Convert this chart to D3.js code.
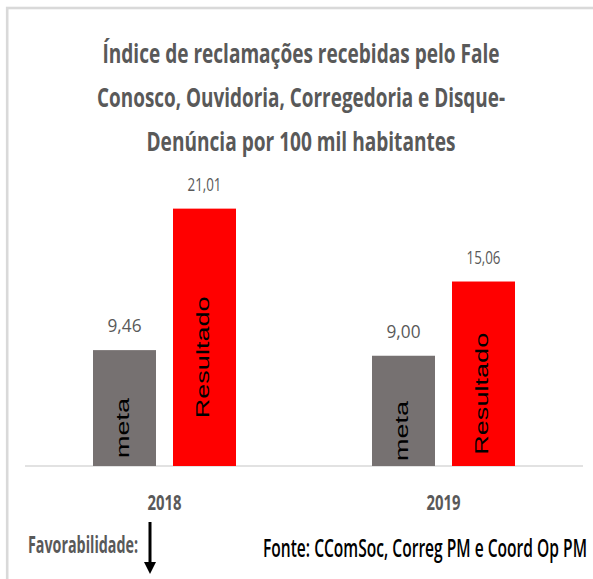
<!DOCTYPE html>
<html>
<head>
<meta charset="utf-8">
<script src="https://cdn.jsdelivr.net/npm/d3@7"></script>
<style>
  body { margin: 0; background: #fff; }
  text { font-family: "Open Sans", sans-serif; }
</style>
</head>
<body>
<div id="chart"></div>
<script>
// data
var years = ["2018", "2019"];
var series = ["meta", "Resultado"];
var metaValues = [9.46, 9.00];
var resultValues = [21.01, 15.06];
var titleLines = [
    "Índice de reclamações recebidas pelo Fale",
    "Conosco, Ouvidoria, Corregedoria e Disque-",
    "Denúncia por 100 mil habitantes"
];

var W = 593, H = 579;
var colors = {meta: "#767171", Resultado: "#ff0000"};

var data = years.map(function (y, i) {
    return {year: y, values: [
        {key: "meta", value: metaValues[i]},
        {key: "Resultado", value: resultValues[i]}
    ]};
});

var svg = d3.select("#chart").append("svg")
    .attr("width", W)
    .attr("height", H);

svg.append("rect").attr("width", W).attr("height", H).attr("fill", "#fff");

// chart frame (only top + left edges visible)
svg.append("rect")
    .attr("x", 7.2).attr("y", 8)
    .attr("width", W + 10).attr("height", H + 10)
    .attr("fill", "none")
    .attr("stroke", "#d9d9d9")
    .attr("stroke-width", 2.6);

// title
var titleLen = [397, 408, 309];
svg.selectAll(".title")
    .data(titleLines)
    .enter().append("text")
    .attr("class", "title")
    .attr("x", 301)
    .attr("y", function (d, i) { return 63 + i * 44; })
    .attr("text-anchor", "middle")
    .attr("textLength", function (d, i) { return titleLen[i]; })
    .attr("lengthAdjust", "spacingAndGlyphs")
    .style("font-size", "27px")
    .style("font-weight", 700)
    .attr("fill", "#595959")
    .text(function (d) { return d; });

// scales
var y = d3.scaleLinear().domain([0, 25]).range([466, 159.75]);
var x0 = d3.scaleBand().domain(years).range([25, 583]);
var x1 = d3.scaleBand().domain(series).range([0, x0.bandwidth()])
    .paddingInner(0.2125).paddingOuter(0.85);

// baseline axis
svg.append("line")
    .attr("x1", 25).attr("x2", 583)
    .attr("y1", y(0)).attr("y2", y(0))
    .attr("stroke", "#d9d9d9")
    .attr("stroke-width", 1.5);

var groups = svg.selectAll(".group")
    .data(data)
    .enter().append("g")
    .attr("class", "group")
    .attr("transform", function (d) { return "translate(" + x0(d.year) + ",0)"; });

var bars = groups.selectAll(".bar")
    .data(function (d) { return d.values; })
    .enter().append("g")
    .attr("class", "bar");

bars.append("rect")
    .attr("x", function (d) { return x1(d.key); })
    .attr("y", function (d) { return y(d.value); })
    .attr("width", x1.bandwidth())
    .attr("height", function (d) { return y(0) - y(d.value); })
    .attr("fill", function (d) { return colors[d.key]; });

// value labels
var fmt = function (v) { return d3.format(".2f")(v).replace(".", ","); };
bars.append("text")
    .attr("x", function (d) { return x1(d.key) + x1.bandwidth() / 2; })
    .attr("y", function (d) { return y(d.value) - 18; })
    .attr("text-anchor", "middle")
    .attr("textLength", 34)
    .attr("lengthAdjust", "spacingAndGlyphs")
    .style("font-size", "19px")
    .attr("fill", "#595959")
    .text(function (d) { return fmt(d.value); });

// series names inside bars, rotated
bars.append("text")
    .attr("transform", function (d) {
        var cx = x1(d.key) + x1.bandwidth() / 2 + 4;
        var cy = (y(d.value) + y(0)) / 2 + 20;
        return "translate(" + cx + "," + cy + ") rotate(-90)";
    })
    .attr("text-anchor", "middle")
    .attr("textLength", function (d) { return d.key == "meta" ? 60 : 122; })
    .attr("lengthAdjust", "spacingAndGlyphs")
    .style("font-family", "'Liberation Sans', Arial, sans-serif")
    .style("font-size", "19px")
    .attr("fill", "#000")
    .text(function (d) { return d.key; });

// category labels
svg.selectAll(".cat")
    .data(years)
    .enter().append("text")
    .attr("class", "cat")
    .attr("x", function (d) { return x0(d) + x0.bandwidth() / 2; })
    .attr("y", 510)
    .attr("text-anchor", "middle")
    .attr("textLength", 34)
    .attr("lengthAdjust", "spacingAndGlyphs")
    .style("font-size", "21px")
    .style("font-weight", 700)
    .attr("fill", "#595959")
    .text(function (d) { return d; });

// footer
svg.append("text")
    .attr("x", 28).attr("y", 553)
    .attr("textLength", 110)
    .attr("lengthAdjust", "spacingAndGlyphs")
    .style("font-size", "23px")
    .style("font-weight", 700)
    .attr("fill", "#595959")
    .text("Favorabilidade:");

svg.append("line")
    .attr("x1", 150).attr("x2", 150)
    .attr("y1", 522).attr("y2", 564)
    .attr("stroke", "#000")
    .attr("stroke-width", 3);
svg.append("path")
    .attr("d", "M144,562 L156,562 L150,574 Z")
    .attr("fill", "#000");

svg.append("text")
    .attr("x", 263).attr("y", 557)
    .attr("textLength", 324)
    .attr("lengthAdjust", "spacingAndGlyphs")
    .style("font-size", "26px")
    .style("font-weight", 600)
    .attr("fill", "#000")
    .text("Fonte: CComSoc, Correg PM e Coord Op PM");
</script>
</body>
</html>
